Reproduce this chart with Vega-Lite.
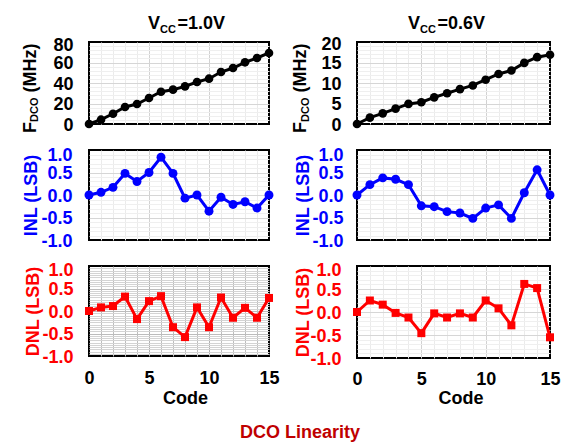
{
"$schema":"https://vega.github.io/schema/vega-lite/v6.json",
"padding":{"left":21,"top":14,"right":5,"bottom":5},
"title":{"text":"DCO Linearity","orient":"bottom","anchor":"middle","fontSize":18,"fontWeight":"bold","color":"#c00000","offset":15,"dx":9},
"datasets":{
"f10":[{"code":0,"value":0},{"code":1,"value":4.2},{"code":2,"value":10},{"code":3,"value":16.6},{"code":4,"value":19.5},{"code":5,"value":25.4},{"code":6,"value":31.5},{"code":7,"value":33.5},{"code":8,"value":36.7},{"code":9,"value":41},{"code":10,"value":44.2},{"code":11,"value":50.7},{"code":12,"value":54.6},{"code":13,"value":60.2},{"code":14,"value":64.4},{"code":15,"value":69.3}],
"f06":[{"code":0,"value":0},{"code":1,"value":1.55},{"code":2,"value":2.6},{"code":3,"value":3.75},{"code":4,"value":4.9},{"code":5,"value":5.3},{"code":6,"value":6.5},{"code":7,"value":7.5},{"code":8,"value":8.5},{"code":9,"value":9.4},{"code":10,"value":10.8},{"code":11,"value":12.2},{"code":12,"value":13.05},{"code":13,"value":14.9},{"code":14,"value":16.3},{"code":15,"value":16.9}],
"inl10":[{"code":0,"value":0},{"code":1,"value":0.06},{"code":2,"value":0.17},{"code":3,"value":0.48},{"code":4,"value":0.3},{"code":5,"value":0.5},{"code":6,"value":0.84},{"code":7,"value":0.48},{"code":8,"value":-0.07},{"code":9,"value":0},{"code":10,"value":-0.36},{"code":11,"value":-0.05},{"code":12,"value":-0.21},{"code":13,"value":-0.15},{"code":14,"value":-0.29},{"code":15,"value":0}],
"inl06":[{"code":0,"value":0},{"code":1,"value":0.23},{"code":2,"value":0.38},{"code":3,"value":0.35},{"code":4,"value":0.23},{"code":5,"value":-0.24},{"code":6,"value":-0.26},{"code":7,"value":-0.37},{"code":8,"value":-0.4},{"code":9,"value":-0.52},{"code":10,"value":-0.29},{"code":11,"value":-0.22},{"code":12,"value":-0.52},{"code":13,"value":0.05},{"code":14,"value":0.56},{"code":15,"value":0}],
"dnl10":[{"code":0,"value":0},{"code":1,"value":0.08},{"code":2,"value":0.11},{"code":3,"value":0.32},{"code":4,"value":-0.18},{"code":5,"value":0.22},{"code":6,"value":0.33},{"code":7,"value":-0.36},{"code":8,"value":-0.58},{"code":9,"value":0.08},{"code":10,"value":-0.36},{"code":11,"value":0.3},{"code":12,"value":-0.15},{"code":13,"value":0.07},{"code":14,"value":-0.15},{"code":15,"value":0.29}],
"dnl06":[{"code":0,"value":0},{"code":1,"value":0.25},{"code":2,"value":0.16},{"code":3,"value":-0.02},{"code":4,"value":-0.12},{"code":5,"value":-0.46},{"code":6,"value":-0.03},{"code":7,"value":-0.12},{"code":8,"value":-0.03},{"code":9,"value":-0.12},{"code":10,"value":0.25},{"code":11,"value":0.08},{"code":12,"value":-0.29},{"code":13,"value":0.61},{"code":14,"value":0.52},{"code":15,"value":-0.55}]
},
"columns":2,
"align":"each",
"bounds":"flush",
"spacing":{"row":26,"column":88},
"concat":[
{
"width":180,"height":82,
"data":{"name":"f10"},
"resolve":{"axis":{"x":"independent","y":"independent"}},
"layer":[
{"mark":{"type":"point","opacity":0},
"encoding":{
"x":{"field":"code","type":"quantitative","scale":{"domain":[0,15],"nice":false,"zero":false},"axis":{"orient":"bottom","values":[1,2,3,4,6,7,8,9,11,12,13,14],"grid":true,"gridColor":"#ebebeb","labels":false,"ticks":false,"domain":false,"title":null}},
"y":{"field":"value","type":"quantitative","scale":{"domain":[0,80],"nice":false,"zero":false},"axis":{"orient":"left","values":[4,8,12,16,24,28,32,36,44,48,52,56,64,68,72,76],"grid":true,"gridColor":"#efefef","labels":false,"ticks":false,"domain":false,"title":null}}}},
{"mark":{"type":"point","opacity":0},
"encoding":{
"x":{"field":"code","type":"quantitative","scale":{"domain":[0,15],"nice":false,"zero":false},"axis":{"orient":"bottom","values":[5,10],"grid":true,"gridColor":"#d2d2d2","labels":false,"ticks":false,"domain":false,"title":null}},
"y":{"field":"value","type":"quantitative","scale":{"domain":[0,80],"nice":false,"zero":false},"axis":{"orient":"left","values":[20,40,60],"grid":true,"gridColor":"#d6d6d6","labels":false,"ticks":false,"domain":false,"title":null}}}},
{"mark":{"type":"line","color":"black","strokeWidth":3,"point":{"filled":true,"size":75,"color":"black","opacity":1}},
"encoding":{
"x":{"field":"code","type":"quantitative","scale":{"domain":[0,15],"nice":false,"zero":false},"axis":null},
"y":{"field":"value","type":"quantitative","scale":{"domain":[0,80],"nice":false,"zero":false},"axis":{"orient":"left","values":[0,20,40,60,80],"grid":false,"ticks":false,"domain":false,"labelOverlap":false,"labelPadding":16,"labelOffset":{"condition":{"test":"datum.value == 80","value":3},"value":1},"title":null}}}},
{"data":{"values":[{}]},"mark":{"type":"text","text":"F","angle":270,"align":"left","baseline":"alphabetic","dx":-50,"dy":-53,"fontSize":18,"fontWeight":"bold","color":"black"},
"encoding":{"x":{"datum":0,"type":"quantitative","scale":{"domain":[0,15],"nice":false,"zero":false},"axis":null},"y":{"datum":40,"type":"quantitative","scale":{"domain":[0,80],"nice":false,"zero":false},"axis":null}}},
{"data":{"values":[{}]},"mark":{"type":"text","text":"DCO","angle":270,"align":"left","baseline":"alphabetic","dx":-39,"dy":-51,"fontSize":11,"fontWeight":"bold","color":"black"},
"encoding":{"x":{"datum":0,"type":"quantitative","scale":{"domain":[0,15],"nice":false,"zero":false},"axis":null},"y":{"datum":40,"type":"quantitative","scale":{"domain":[0,80],"nice":false,"zero":false},"axis":null}}},
{"data":{"values":[{}]},"mark":{"type":"text","text":"(MHz)","angle":270,"align":"left","baseline":"alphabetic","dx":-9.6,"dy":-53,"fontSize":18,"fontWeight":"bold","color":"black"},
"encoding":{"x":{"datum":0,"type":"quantitative","scale":{"domain":[0,15],"nice":false,"zero":false},"axis":null},"y":{"datum":40,"type":"quantitative","scale":{"domain":[0,80],"nice":false,"zero":false},"axis":null}}},
{"data":{"values":[{}]},"mark":{"type":"text","text":"V","align":"left","baseline":"alphabetic","dx":59,"dy":-12.7,"fontSize":18,"fontWeight":"bold","color":"black"},
"encoding":{"x":{"datum":0,"type":"quantitative","scale":{"domain":[0,15],"nice":false,"zero":false},"axis":null},"y":{"datum":80,"type":"quantitative","scale":{"domain":[0,80],"nice":false,"zero":false},"axis":null}}},
{"data":{"values":[{}]},"mark":{"type":"text","text":"CC","align":"left","baseline":"alphabetic","dx":71,"dy":-9.3,"fontSize":11,"fontWeight":"bold","color":"black"},
"encoding":{"x":{"datum":0,"type":"quantitative","scale":{"domain":[0,15],"nice":false,"zero":false},"axis":null},"y":{"datum":80,"type":"quantitative","scale":{"domain":[0,80],"nice":false,"zero":false},"axis":null}}},
{"data":{"values":[{}]},"mark":{"type":"text","text":"=1.0V","align":"left","baseline":"alphabetic","dx":88.5,"dy":-12.7,"fontSize":18,"fontWeight":"bold","color":"black"},
"encoding":{"x":{"datum":0,"type":"quantitative","scale":{"domain":[0,15],"nice":false,"zero":false},"axis":null},"y":{"datum":80,"type":"quantitative","scale":{"domain":[0,80],"nice":false,"zero":false},"axis":null}}}
]
},
{
"width":193,"height":82,
"data":{"name":"f06"},
"resolve":{"axis":{"x":"independent","y":"independent"}},
"layer":[
{"mark":{"type":"point","opacity":0},
"encoding":{
"x":{"field":"code","type":"quantitative","scale":{"domain":[0,15],"nice":false,"zero":false},"axis":{"orient":"bottom","values":[1,2,3,4,6,7,8,9,11,12,13,14],"grid":true,"gridColor":"#ebebeb","labels":false,"ticks":false,"domain":false,"title":null}},
"y":{"field":"value","type":"quantitative","scale":{"domain":[0,20],"nice":false,"zero":false},"axis":{"orient":"left","values":[1,2,3,4,6,7,8,9,11,12,13,14,16,17,18,19],"grid":true,"gridColor":"#efefef","labels":false,"ticks":false,"domain":false,"title":null}}}},
{"mark":{"type":"point","opacity":0},
"encoding":{
"x":{"field":"code","type":"quantitative","scale":{"domain":[0,15],"nice":false,"zero":false},"axis":{"orient":"bottom","values":[5,10],"grid":true,"gridColor":"#d2d2d2","labels":false,"ticks":false,"domain":false,"title":null}},
"y":{"field":"value","type":"quantitative","scale":{"domain":[0,20],"nice":false,"zero":false},"axis":{"orient":"left","values":[5,10,15],"grid":true,"gridColor":"#d6d6d6","labels":false,"ticks":false,"domain":false,"title":null}}}},
{"mark":{"type":"line","color":"black","strokeWidth":3,"point":{"filled":true,"size":75,"color":"black","opacity":1}},
"encoding":{
"x":{"field":"code","type":"quantitative","scale":{"domain":[0,15],"nice":false,"zero":false},"axis":null},
"y":{"field":"value","type":"quantitative","scale":{"domain":[0,20],"nice":false,"zero":false},"axis":{"orient":"left","values":[0,5,10,15,20],"grid":false,"ticks":false,"domain":false,"labelOverlap":false,"labelPadding":16,"labelOffset":{"condition":{"test":"datum.value == 20","value":2},"value":1},"title":null}}}},
{"data":{"values":[{}]},"mark":{"type":"text","text":"F","angle":270,"align":"left","baseline":"alphabetic","dx":-50,"dy":-51,"fontSize":18,"fontWeight":"bold","color":"black"},
"encoding":{"x":{"datum":0,"type":"quantitative","scale":{"domain":[0,15],"nice":false,"zero":false},"axis":null},"y":{"datum":10,"type":"quantitative","scale":{"domain":[0,20],"nice":false,"zero":false},"axis":null}}},
{"data":{"values":[{}]},"mark":{"type":"text","text":"DCO","angle":270,"align":"left","baseline":"alphabetic","dx":-39,"dy":-48,"fontSize":11,"fontWeight":"bold","color":"black"},
"encoding":{"x":{"datum":0,"type":"quantitative","scale":{"domain":[0,15],"nice":false,"zero":false},"axis":null},"y":{"datum":10,"type":"quantitative","scale":{"domain":[0,20],"nice":false,"zero":false},"axis":null}}},
{"data":{"values":[{}]},"mark":{"type":"text","text":"(MHz)","angle":270,"align":"left","baseline":"alphabetic","dx":-9.6,"dy":-51,"fontSize":18,"fontWeight":"bold","color":"black"},
"encoding":{"x":{"datum":0,"type":"quantitative","scale":{"domain":[0,15],"nice":false,"zero":false},"axis":null},"y":{"datum":10,"type":"quantitative","scale":{"domain":[0,20],"nice":false,"zero":false},"axis":null}}},
{"data":{"values":[{}]},"mark":{"type":"text","text":"V","align":"left","baseline":"alphabetic","dx":51,"dy":-12.7,"fontSize":18,"fontWeight":"bold","color":"black"},
"encoding":{"x":{"datum":0,"type":"quantitative","scale":{"domain":[0,15],"nice":false,"zero":false},"axis":null},"y":{"datum":20,"type":"quantitative","scale":{"domain":[0,20],"nice":false,"zero":false},"axis":null}}},
{"data":{"values":[{}]},"mark":{"type":"text","text":"CC","align":"left","baseline":"alphabetic","dx":63,"dy":-9.3,"fontSize":11,"fontWeight":"bold","color":"black"},
"encoding":{"x":{"datum":0,"type":"quantitative","scale":{"domain":[0,15],"nice":false,"zero":false},"axis":null},"y":{"datum":20,"type":"quantitative","scale":{"domain":[0,20],"nice":false,"zero":false},"axis":null}}},
{"data":{"values":[{}]},"mark":{"type":"text","text":"=0.6V","align":"left","baseline":"alphabetic","dx":80.5,"dy":-12.7,"fontSize":18,"fontWeight":"bold","color":"black"},
"encoding":{"x":{"datum":0,"type":"quantitative","scale":{"domain":[0,15],"nice":false,"zero":false},"axis":null},"y":{"datum":20,"type":"quantitative","scale":{"domain":[0,20],"nice":false,"zero":false},"axis":null}}}
]
},
{
"width":180,"height":90,
"data":{"name":"inl10"},
"resolve":{"axis":{"x":"independent","y":"independent"}},
"layer":[
{"mark":{"type":"point","opacity":0},
"encoding":{
"x":{"field":"code","type":"quantitative","scale":{"domain":[0,15],"nice":false,"zero":false},"axis":{"orient":"bottom","values":[1,2,3,4,6,7,8,9,11,12,13,14],"grid":true,"gridColor":"#ebebeb","labels":false,"ticks":false,"domain":false,"title":null}},
"y":{"field":"value","type":"quantitative","scale":{"domain":[-1,1],"nice":false,"zero":false},"axis":{"orient":"left","values":[-0.9,-0.8,-0.7,-0.6,-0.4,-0.3,-0.2,-0.1,0.1,0.2,0.3,0.4,0.6,0.7,0.8,0.9],"grid":true,"gridColor":"#efefef","labels":false,"ticks":false,"domain":false,"title":null}}}},
{"mark":{"type":"point","opacity":0},
"encoding":{
"x":{"field":"code","type":"quantitative","scale":{"domain":[0,15],"nice":false,"zero":false},"axis":{"orient":"bottom","values":[5,10],"grid":true,"gridColor":"#d2d2d2","labels":false,"ticks":false,"domain":false,"title":null}},
"y":{"field":"value","type":"quantitative","scale":{"domain":[-1,1],"nice":false,"zero":false},"axis":{"orient":"left","values":[-0.5,0,0.5],"grid":true,"gridColor":"#d6d6d6","labels":false,"ticks":false,"domain":false,"title":null}}}},
{"mark":{"type":"line","color":"#0000ff","strokeWidth":3,"point":{"filled":true,"size":80,"color":"#0000ff","opacity":1}},
"encoding":{
"x":{"field":"code","type":"quantitative","scale":{"domain":[0,15],"nice":false,"zero":false},"axis":null},
"y":{"field":"value","type":"quantitative","scale":{"domain":[-1,1],"nice":false,"zero":false},"axis":{"orient":"left","values":[-1,-0.5,0,0.5,1],"grid":false,"ticks":false,"domain":false,"labelOverlap":false,"labelPadding":17,"labelColor":"#0000ff","labelExpr":"datum.value < 0 ? '-' + format(-datum.value, '.1f') : format(datum.value, '.1f')","labelOffset":{"condition":{"test":"datum.value == 1","value":5},"value":1},"title":"INL (LSB)","titleColor":"#0000ff","titleX":-53,"titleY":45,"titleAngle":270,"titleAlign":"center","titleBaseline":"alphabetic"}}}}
]
},
{
"width":193,"height":90,
"data":{"name":"inl06"},
"resolve":{"axis":{"x":"independent","y":"independent"}},
"layer":[
{"mark":{"type":"point","opacity":0},
"encoding":{
"x":{"field":"code","type":"quantitative","scale":{"domain":[0,15],"nice":false,"zero":false},"axis":{"orient":"bottom","values":[1,2,3,4,6,7,8,9,11,12,13,14],"grid":true,"gridColor":"#ebebeb","labels":false,"ticks":false,"domain":false,"title":null}},
"y":{"field":"value","type":"quantitative","scale":{"domain":[-1,1],"nice":false,"zero":false},"axis":{"orient":"left","values":[-0.9,-0.8,-0.7,-0.6,-0.4,-0.3,-0.2,-0.1,0.1,0.2,0.3,0.4,0.6,0.7,0.8,0.9],"grid":true,"gridColor":"#efefef","labels":false,"ticks":false,"domain":false,"title":null}}}},
{"mark":{"type":"point","opacity":0},
"encoding":{
"x":{"field":"code","type":"quantitative","scale":{"domain":[0,15],"nice":false,"zero":false},"axis":{"orient":"bottom","values":[5,10],"grid":true,"gridColor":"#d2d2d2","labels":false,"ticks":false,"domain":false,"title":null}},
"y":{"field":"value","type":"quantitative","scale":{"domain":[-1,1],"nice":false,"zero":false},"axis":{"orient":"left","values":[-0.5,0,0.5],"grid":true,"gridColor":"#d6d6d6","labels":false,"ticks":false,"domain":false,"title":null}}}},
{"mark":{"type":"line","color":"#0000ff","strokeWidth":3,"point":{"filled":true,"size":80,"color":"#0000ff","opacity":1}},
"encoding":{
"x":{"field":"code","type":"quantitative","scale":{"domain":[0,15],"nice":false,"zero":false},"axis":null},
"y":{"field":"value","type":"quantitative","scale":{"domain":[-1,1],"nice":false,"zero":false},"axis":{"orient":"left","values":[-1,-0.5,0,0.5,1],"grid":false,"ticks":false,"domain":false,"labelOverlap":false,"labelPadding":14,"labelColor":"#0000ff","labelExpr":"datum.value < 0 ? '-' + format(-datum.value, '.1f') : format(datum.value, '.1f')","labelOffset":{"condition":{"test":"datum.value == 1","value":5},"value":1},"title":"INL (LSB)","titleColor":"#0000ff","titleX":-49,"titleY":45,"titleAngle":270,"titleAlign":"center","titleBaseline":"alphabetic"}}}}
]
},
{
"width":180,"height":90,
"data":{"name":"dnl10"},
"resolve":{"axis":{"x":"independent","y":"independent"}},
"layer":[
{"mark":{"type":"point","opacity":0},
"encoding":{
"x":{"field":"code","type":"quantitative","scale":{"domain":[0,15],"nice":false,"zero":false},"axis":{"orient":"bottom","values":[1,2,3,4,6,7,8,9,11,12,13,14],"grid":true,"gridColor":"#bdbdbd","labels":false,"ticks":false,"domain":false,"title":null}},
"y":{"field":"value","type":"quantitative","scale":{"domain":[-1,1],"nice":false,"zero":false},"axis":{"orient":"left","values":[-0.95,-0.9,-0.85,-0.8,-0.75,-0.7,-0.65,-0.6,-0.55,-0.45,-0.4,-0.35,-0.3,-0.25,-0.2,-0.15,-0.1,-0.05,0.05,0.1,0.15,0.2,0.25,0.3,0.35,0.4,0.45,0.55,0.6,0.65,0.7,0.75,0.8,0.85,0.9,0.95],"grid":true,"gridColor":"#d4d4d4","labels":false,"ticks":false,"domain":false,"title":null}}}},
{"mark":{"type":"point","opacity":0},
"encoding":{
"x":{"field":"code","type":"quantitative","scale":{"domain":[0,15],"nice":false,"zero":false},"axis":{"orient":"bottom","values":[5,10],"grid":true,"gridColor":"#b0b0b0","labels":false,"ticks":false,"domain":false,"title":null}},
"y":{"field":"value","type":"quantitative","scale":{"domain":[-1,1],"nice":false,"zero":false},"axis":{"orient":"left","values":[-0.5,0,0.5],"grid":true,"gridColor":"#bcbcbc","labels":false,"ticks":false,"domain":false,"title":null}}}},
{"mark":{"type":"line","color":"#ff0000","strokeWidth":3,"point":{"filled":true,"shape":"square","size":64,"color":"#ff0000","opacity":1}},
"encoding":{
"x":{"field":"code","type":"quantitative","scale":{"domain":[0,15],"nice":false,"zero":false},"axis":{"orient":"bottom","values":[0,5,10,15],"grid":false,"ticks":false,"domain":false,"labelFlush":false,"labelOverlap":false,"labelPadding":13.5,"title":"Code","titleX":96,"titleY":47.7,"titleAlign":"center","titleBaseline":"alphabetic"}},
"y":{"field":"value","type":"quantitative","scale":{"domain":[-1,1],"nice":false,"zero":false},"axis":{"orient":"left","values":[-1,-0.5,0,0.5,1],"grid":false,"ticks":false,"domain":false,"labelOverlap":false,"labelPadding":16,"labelColor":"#ff0000","labelExpr":"datum.value < 0 ? '-' + format(-datum.value, '.1f') : format(datum.value, '.1f')","labelOffset":{"condition":{"test":"datum.value == 1","value":4},"value":1},"title":"DNL (LSB)","titleColor":"#ff0000","titleX":-51,"titleY":45,"titleAngle":270,"titleAlign":"center","titleBaseline":"alphabetic"}}}}
]
},
{
"width":193,"height":92,
"data":{"name":"dnl06"},
"resolve":{"axis":{"x":"independent","y":"independent"}},
"layer":[
{"mark":{"type":"point","opacity":0},
"encoding":{
"x":{"field":"code","type":"quantitative","scale":{"domain":[0,15],"nice":false,"zero":false},"axis":{"orient":"bottom","values":[1,2,3,4,6,7,8,9,11,12,13,14],"grid":true,"gridColor":"#ebebeb","labels":false,"ticks":false,"domain":false,"title":null}},
"y":{"field":"value","type":"quantitative","scale":{"domain":[-1,1],"nice":false,"zero":false},"axis":{"orient":"left","values":[-0.9,-0.8,-0.7,-0.6,-0.4,-0.3,-0.2,-0.1,0.1,0.2,0.3,0.4,0.6,0.7,0.8,0.9],"grid":true,"gridColor":"#efefef","labels":false,"ticks":false,"domain":false,"title":null}}}},
{"mark":{"type":"point","opacity":0},
"encoding":{
"x":{"field":"code","type":"quantitative","scale":{"domain":[0,15],"nice":false,"zero":false},"axis":{"orient":"bottom","values":[5,10],"grid":true,"gridColor":"#d2d2d2","labels":false,"ticks":false,"domain":false,"title":null}},
"y":{"field":"value","type":"quantitative","scale":{"domain":[-1,1],"nice":false,"zero":false},"axis":{"orient":"left","values":[-0.5,0,0.5],"grid":true,"gridColor":"#d6d6d6","labels":false,"ticks":false,"domain":false,"title":null}}}},
{"mark":{"type":"line","color":"#ff0000","strokeWidth":3,"point":{"filled":true,"shape":"square","size":64,"color":"#ff0000","opacity":1}},
"encoding":{
"x":{"field":"code","type":"quantitative","scale":{"domain":[0,15],"nice":false,"zero":false},"axis":{"orient":"bottom","values":[0,5,10,15],"grid":false,"ticks":false,"domain":false,"labelFlush":false,"labelOverlap":false,"labelPadding":12,"title":"Code","titleX":103.5,"titleY":45.7,"titleAlign":"center","titleBaseline":"alphabetic"}},
"y":{"field":"value","type":"quantitative","scale":{"domain":[-1,1],"nice":false,"zero":false},"axis":{"orient":"left","values":[-1,-0.5,0,0.5,1],"grid":false,"ticks":false,"domain":false,"labelOverlap":false,"labelPadding":16,"labelColor":"#ff0000","labelExpr":"datum.value < 0 ? '-' + format(-datum.value, '.1f') : format(datum.value, '.1f')","labelOffset":{"condition":{"test":"datum.value == 1","value":4},"value":1},"title":"DNL (LSB)","titleColor":"#ff0000","titleX":-49,"titleY":46,"titleAngle":270,"titleAlign":"center","titleBaseline":"alphabetic"}}}}
]
}
],
"config":{
"font":"Liberation Sans",
"view":{"stroke":"black","strokeWidth":2},
"axis":{"labelFont":"Liberation Sans","labelFontSize":18,"labelFontWeight":"bold","labelColor":"black","titleFont":"Liberation Sans","titleFontSize":18,"titleFontWeight":"bold","titleColor":"black"}
}
}
